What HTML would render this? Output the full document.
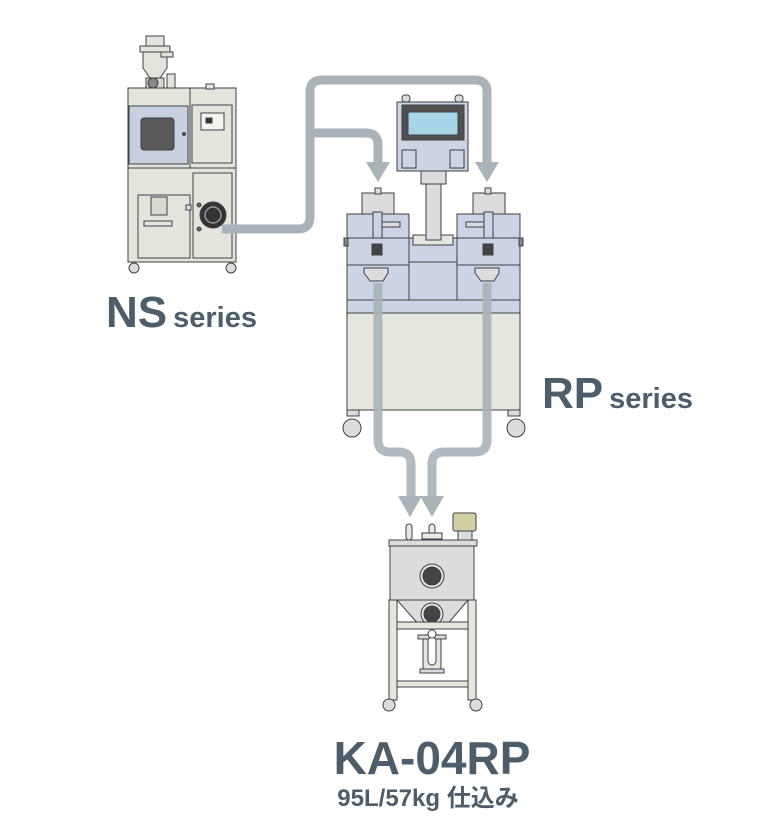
<!DOCTYPE html>
<html><head><meta charset="utf-8"><style>
html,body{margin:0;padding:0;background:#fff;width:768px;height:832px;overflow:hidden}
svg{display:block}
text{font-family:"Liberation Sans","Noto Sans CJK JP",sans-serif;fill:#4d5e6a;font-weight:bold}
</style></head><body>
<svg width="768" height="832" viewBox="0 0 768 832" xmlns="http://www.w3.org/2000/svg">
<g stroke="#3c4246" stroke-width="1">
<rect x="146" y="36" width="18" height="12" fill="#e3e5dc"/>
<rect x="140" y="46" width="30" height="6" fill="#e3e5dc"/>
<path d="M143 52 H167 V68 L160 78 H150 L143 68Z" fill="#e3e5dc"/>
<rect x="161" y="52" width="12" height="5" fill="#e3e5dc"/>
<rect x="146" y="78" width="18" height="11" fill="#d8dad2"/>
<circle cx="153" cy="83" r="5" fill="#888"/>
<rect x="167" y="74" width="8" height="14" fill="#e3e5dc"/>
<rect x="128" y="88" width="108" height="174" fill="#e3e5dc"/>
<rect x="128" y="88" width="62" height="80" fill="#e3e5dc"/>
<rect x="129" y="106" width="59" height="58" fill="#c8d0e0"/>
<rect x="141" y="118" width="33" height="32" rx="3" fill="#5a5a5a"/>
<circle cx="184" cy="134" r="1.5" fill="#555"/>
<rect x="192" y="105" width="40" height="58" fill="#e3e5dc"/>
<rect x="201" y="113" width="23" height="17" fill="#f4f4ee"/>
<rect x="206" y="118" width="6" height="5" fill="#333"/>
<rect x="206" y="84" width="8" height="5" fill="#e3e5dc"/>
<line x1="128" y1="168" x2="236" y2="168"/>
<rect x="138" y="195" width="52" height="63" fill="#e3e5dc"/>
<rect x="193" y="173" width="39" height="85" fill="#e3e5dc"/>
<rect x="151" y="197" width="16" height="18" fill="#d8dad2"/>
<rect x="144" y="221" width="28" height="5" fill="#e3e5dc"/>
<rect x="186" y="205" width="5" height="5" fill="#e3e5dc"/>
<circle cx="213" cy="215" r="13" fill="#333"/>
<circle cx="213" cy="215" r="8" fill="none" stroke="#999" stroke-width="1.5"/>
<circle cx="199" cy="205" r="2" fill="#666"/>
<circle cx="199" cy="229" r="2" fill="#666"/>
<circle cx="134" cy="268" r="5" fill="#ddd"/>
<circle cx="231" cy="268" r="5" fill="#ddd"/>
</g>
<g fill="none" stroke="#a9b3b8" stroke-width="9" stroke-linejoin="round">
<path d="M222 229 H298 Q310 229 310 217 V92 Q310 80 322 80 H475 Q487 80 487 92 V164"/>
<path d="M310 133 H366 Q378 133 378 145 V164"/>
</g>
<g fill="#a9b3b8">
<polygon points="366,162 390,162 378,182"/>
<polygon points="475,162 499,162 487,182"/>
</g>
<g stroke="#3c4246" stroke-width="1">
<rect x="347" y="313" width="173" height="97" fill="#e4e7dc"/>
<rect x="347" y="238" width="173" height="75" fill="#cbd3e4"/>
<line x1="347" y1="300" x2="520" y2="300"/>
<rect x="409" y="238" width="48" height="24" fill="#cbd3e4"/>
<line x1="347" y1="265" x2="409" y2="265"/><line x1="457" y1="265" x2="520" y2="265"/>
<line x1="409" y1="238" x2="409" y2="300"/><line x1="457" y1="238" x2="457" y2="300"/>
<rect x="413" y="235" width="40" height="10" fill="#e4e7dc"/>
<rect x="426" y="184" width="15" height="56" fill="#dcdcdc"/>
<rect x="421" y="171" width="25" height="13" fill="#dcdcdc"/>
<rect x="397" y="102" width="71" height="69" fill="#cbd3e4"/>
<rect x="402" y="105" width="62" height="35" fill="#505050"/>
<rect x="408" y="112" width="50" height="23" fill="#a8d4e8"/>
<rect x="402" y="150" width="14" height="18" fill="#cbd3e4"/>
<rect x="450" y="150" width="14" height="18" fill="#cbd3e4"/>
<rect x="402" y="95" width="8" height="7" rx="3" fill="#dcdcdc"/>
<rect x="455" y="95" width="8" height="7" rx="3" fill="#dcdcdc"/>
<rect x="347" y="214" width="62" height="24" fill="#cbd3e4"/>
<rect x="457" y="214" width="63" height="24" fill="#cbd3e4"/>
<path d="M362 193 H394 V214 H362Z" fill="#dcdcdc"/>
<path d="M473 193 H505 V214 H473Z" fill="#dcdcdc"/>
<rect x="375" y="188" width="6" height="6" fill="#dcdcdc"/>
<rect x="485" y="188" width="6" height="6" fill="#dcdcdc"/>
<rect x="373" y="212" width="9" height="26" fill="#cbd3e4"/>
<rect x="484" y="212" width="9" height="26" fill="#cbd3e4"/>
<rect x="382" y="222" width="18" height="5" fill="#dcdcdc"/>
<rect x="466" y="222" width="18" height="5" fill="#dcdcdc"/>
<rect x="344" y="238" width="4" height="8" fill="#888"/>
<rect x="519" y="238" width="4" height="8" fill="#888"/>
<rect x="372" y="244" width="10" height="11" fill="#444"/>
<rect x="483" y="244" width="10" height="11" fill="#444"/>
<path d="M364 268 H388 V273 L383 281 H370 L364 273Z" fill="#dcdcdc"/>
<path d="M475 268 H499 V273 L494 281 H481 L475 273Z" fill="#dcdcdc"/>
<rect x="347" y="410" width="12" height="6" fill="#dcdcdc"/>
<rect x="508" y="410" width="12" height="6" fill="#dcdcdc"/>
<circle cx="352" cy="428" r="9" fill="#dcdcdc"/>
<circle cx="516" cy="428" r="9" fill="#dcdcdc"/>
</g>
<g fill="none" stroke="#a9b3b8" stroke-width="9" stroke-linejoin="round" opacity="0.9">
<path d="M378 283 V440 Q378 452 390 452 H399 Q411 452 411 464 V500"/>
<path d="M487 283 V440 Q487 452 475 452 H444 Q432 452 432 464 V500"/>
</g>
<g fill="#a9b3b8">
<polygon points="398,496 422,496 410,517"/>
<polygon points="420,496 444,496 432,517"/>
</g>
<g stroke="#3c4246" stroke-width="1">
<rect x="406" y="524" width="6" height="16" rx="3" fill="#e8e8e8"/>
<rect x="429" y="524" width="6" height="16" rx="3" fill="#e8e8e8"/>
<rect x="422" y="533" width="20" height="6" fill="#e8e8e8"/>
<rect x="458" y="530" width="14" height="10" fill="#dcdcdc"/>
<rect x="453" y="513" width="23" height="18" rx="2" fill="#d3cfa4"/>
<rect x="389" y="540" width="88" height="6" fill="#dcdcdc"/>
<rect x="390" y="546" width="84" height="54" fill="#dcdcdc"/>
<circle cx="432" cy="576" r="12" fill="#e8e8e8"/>
<circle cx="432" cy="576" r="9" fill="#444"/>
<rect x="389" y="600" width="8" height="100" fill="#e4e7dc"/>
<rect x="468" y="600" width="8" height="100" fill="#e4e7dc"/>
<path d="M397 600 H468 L446 626 H420Z" fill="#dcdcdc"/>
<circle cx="432" cy="614" r="11" fill="#e8e8e8"/>
<circle cx="432" cy="614" r="8" fill="#444"/>
<rect x="397" y="622" width="71" height="7" fill="#e4e7dc"/>
<rect x="397" y="681" width="71" height="6" fill="#e4e7dc"/>
<rect x="418" y="635" width="28" height="4" fill="#dcdcdc"/>
<rect x="423" y="639" width="18" height="34" fill="#e4e7dc"/>
<rect x="428" y="637" width="8" height="28" rx="4" fill="#fff"/>
<circle cx="432" cy="634" r="4" fill="#fff"/>
<rect x="420" y="669" width="24" height="4" fill="#dcdcdc"/>
<circle cx="389" cy="705" r="6" fill="#ddd"/>
<circle cx="476" cy="705" r="6" fill="#ddd"/>
</g>
<text x="106" y="327" font-size="44">NS<tspan font-size="29" dx="6">series</tspan></text>
<text x="542" y="408" font-size="44">RP<tspan font-size="29" dx="6">series</tspan></text>
<text x="432" y="774" font-size="46" text-anchor="middle">KA-04RP</text>
<text x="428" y="806" font-size="24" text-anchor="middle">95L/57kg 仕込み</text>
</svg>
</body></html>
